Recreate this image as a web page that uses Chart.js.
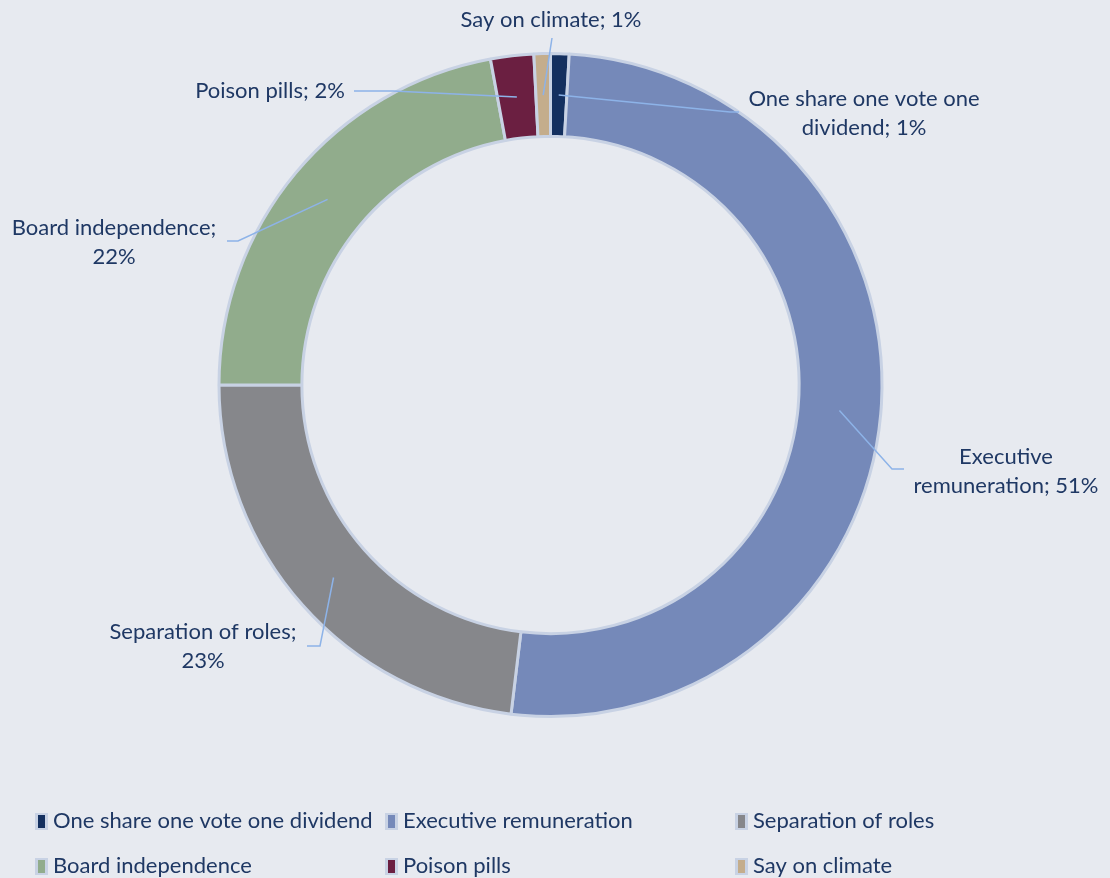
<!DOCTYPE html>
<html>
<head>
<meta charset="utf-8">
<script src="https://cdn.jsdelivr.net/npm/chart.js@4.4.1/dist/chart.umd.min.js"></script>
<style>
  html, body { margin: 0; padding: 0; background: #E7EAF0; }
  #wrap { width: 1110px; height: 878px; }
</style>
</head>
<body>
<div id="wrap"><canvas id="ringChart" width="1110" height="878"></canvas></div>
<script>
// topics of shareholder proposals (share of total, %)
const categories = [
  'One share one vote one dividend',
  'Executive remuneration',
  'Separation of roles',
  'Board independence',
  'Poison pills',
  'Say on climate'
];
const shares = [0.9, 51.0, 23.1, 22.1, 2.1, 0.8];
const sliceColors = ['#14305F', '#7589B9', '#86878B', '#91AC8C', '#6B1F41', '#C4AD8C'];

const textColor = '#1F3864';
const leaderColor = '#8DB3E8';
const ringBorder = '#C8D2E4';
const labelFont = '22px Lato, "Open Sans", sans-serif';

// where each data label sits: text centre, first-line y, words on line 1, leader bend + end
const labelPlacement = [
  { x: 864, y: 99, firstWords: 5, path: [[730, 112], [739, 112]] },
  { x: 1006, y: 457, firstWords: 1, path: [[892, 469], [904, 469]] },
  { x: 203, y: 632, firstWords: 3, path: [[320, 646], [307, 646]] },
  { x: 114, y: 228, firstWords: 2, path: [[238, 241], [227, 241]] },
  { x: 270, y: 91, firstWords: 99, path: [[393, 91], [354, 91]] },
  { x: 551, y: 20, firstWords: 99, path: [[552, 38]] }
];

const labelsPlugin = {
  id: 'sliceLabels',
  afterDatasetsDraw(chart) {
    const ctx = chart.ctx;
    const meta = chart.getDatasetMeta(0);
    ctx.save();
    meta.data.forEach((arc, i) => {
      const p = labelPlacement[i];
      const mid = (arc.startAngle + arc.endAngle) / 2;
      const r = (arc.innerRadius + arc.outerRadius) / 2;
      const ax = arc.x + Math.cos(mid) * r;
      const ay = arc.y + Math.sin(mid) * r;

      ctx.strokeStyle = leaderColor;
      ctx.lineWidth = 1.5;
      ctx.beginPath();
      ctx.moveTo(ax, ay);
      p.path.forEach(pt => ctx.lineTo(pt[0], pt[1]));
      ctx.stroke();

      const words = (categories[i] + '; ' + Math.round(shares[i]) + '%').split(' ');
      const lines = [words.slice(0, p.firstWords).join(' ')];
      if (words.length > p.firstWords) lines.push(words.slice(p.firstWords).join(' '));

      ctx.fillStyle = textColor;
      ctx.font = labelFont;
      ctx.textAlign = 'center';
      ctx.textBaseline = 'middle';
      lines.forEach((ln, k) => ctx.fillText(ln, p.x, p.y + k * 29));
    });
    ctx.restore();
  }
};

const legendPlugin = {
  id: 'gridLegend',
  afterDraw(chart) {
    const ctx = chart.ctx;
    ctx.save();
    ctx.font = labelFont;
    ctx.textBaseline = 'middle';
    ctx.textAlign = 'left';
    categories.forEach((name, i) => {
      const col = i % 3;
      const row = Math.floor(i / 3);
      const x = 35 + col * 350;
      const y = 821 + row * 45;
      ctx.fillStyle = ringBorder;
      ctx.fillRect(x, y - 8, 13, 17);
      ctx.fillStyle = sliceColors[i];
      ctx.fillRect(x + 3, y - 6, 7, 13);
      ctx.fillStyle = textColor;
      ctx.fillText(name, x + 18, y);
    });
    ctx.restore();
  }
};

new Chart(document.getElementById('ringChart'), {
  type: 'doughnut',
  data: {
    labels: categories,
    datasets: [{
      data: shares,
      backgroundColor: sliceColors,
      borderColor: ringBorder,
      borderWidth: 3,
      hoverOffset: 0
    }]
  },
  options: {
    responsive: false,
    animation: false,
    cutout: '75%',
    layout: { padding: { top: 52, bottom: 160, left: 0, right: 9 } },
    plugins: {
      legend: { display: false },
      tooltip: { enabled: false }
    },
    events: []
  },
  plugins: [labelsPlugin, legendPlugin]
});
</script>
</body>
</html>
